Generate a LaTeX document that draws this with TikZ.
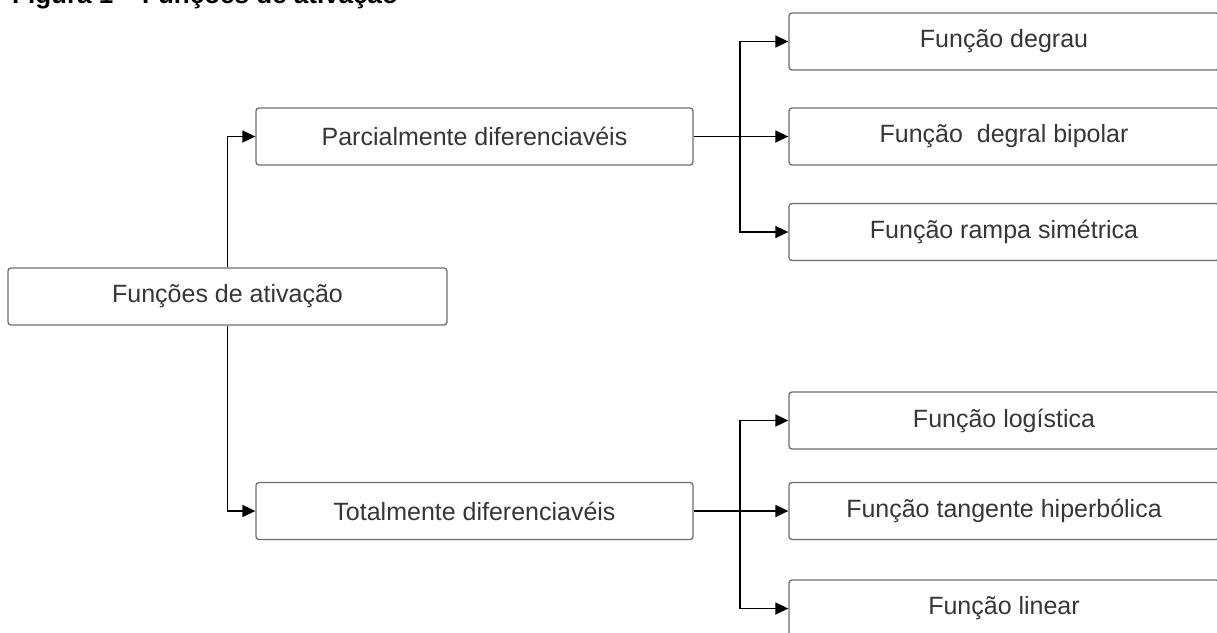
\documentclass[tikz,border=0pt]{standalone}
\usepackage{fontspec}
\setmainfont{Liberation Sans}
\usetikzlibrary{arrows.meta}
\definecolor{boxline}{HTML}{6E6E6E}
\definecolor{boxtext}{HTML}{363636}
\begin{document}
\begin{tikzpicture}[x=1pt,y=-1pt,
  fbox/.style={draw=boxline, line width=1.3pt, rounded corners=3pt,
    fill=white, text=boxtext, inner sep=0pt,
    font=\fontsize{25}{30}\selectfont},
  midbox/.style={fbox, minimum width=437pt, minimum height=57pt},
  leafbox/.style={fbox, minimum width=430pt, minimum height=57pt},
  link/.style={draw=black, line width=1.8pt,
    -{Triangle[length=13pt,width=12pt]}},
  plain/.style={draw=black, line width=1.8pt}]
\useasboundingbox (0,0) rectangle (1217,632);
\clip (0,0) rectangle (1217,632);

% title, cut by the top edge
\node[anchor=base west, inner sep=0pt, font=\bfseries\fontsize{26}{30}\selectfont]
  (title) at (12,3) {Figura 1 – Funções de ativação};

% boxes
\node[fbox, minimum width=439pt, minimum height=57pt] (root) at (227.5,296.5) {Funções de ativação};
\node[midbox] (parcial) at (474.5,136.5) {Parcialmente diferenciavéis};
\node[midbox] (total) at (474.5,511) {Totalmente diferenciavéis};

\node[leafbox] (degrau) at (1004,41.5) {Função degrau};
\node[leafbox] (bipolar) at (1004,136.5) {Função\ \ degral bipolar};
\node[leafbox] (rampa) at (1004,232) {Função rampa simétrica};
\node[leafbox] (logistica) at (1004,420.5) {Função logística};
\node[leafbox] (tangente) at (1004,511) {Função tangente hiperbólica};
\node[leafbox] (linear) at (1004,608.5) {Função linear};

% branch points
\coordinate (pfork) at (740,136.5);
\coordinate (tfork) at (740,511);

% connectors
\draw[link] (root.north) |- (parcial.west);
\draw[link] (root.south) |- (total.west);

\draw[link] (parcial.east) -- (bipolar.west);
\draw[link] (pfork) |- (degrau.west);
\draw[link] (pfork) |- (rampa.west);

\draw[link] (total.east) -- (tangente.west);
\draw[link] (tfork) |- (logistica.west);
\draw[link] (tfork) |- (linear.west);
\end{tikzpicture}
\end{document}
